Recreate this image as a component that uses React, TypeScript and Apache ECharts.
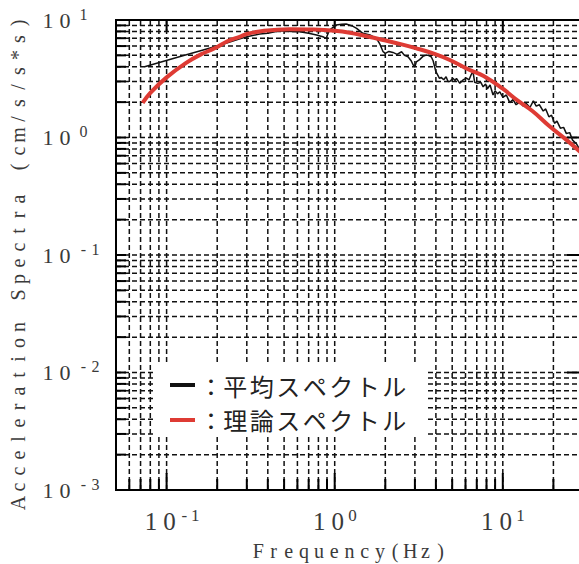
import React, { useEffect, useRef } from 'react';
import * as echarts from 'echarts';

// ---- axis ranges ----
const X_MIN = 0.05;
const X_MAX = 30;
const Y_MIN = 0.001;
const Y_MAX = 10;

// ---- grid line values (log decades) ----
const xGridValues = [
  0.06, 0.07, 0.08, 0.09, 0.1, 0.2, 0.3, 0.4, 0.5, 0.6, 0.7, 0.8, 0.9,
  1, 2, 3, 4, 5, 6, 7, 8, 9, 10, 20,
];
const yGridValues = [
  0.002, 0.003, 0.004, 0.005, 0.006, 0.007, 0.008, 0.009,
  0.01, 0.02, 0.03, 0.04, 0.05, 0.06, 0.07, 0.08, 0.09,
  0.1, 0.2, 0.3, 0.4, 0.5, 0.6, 0.7, 0.8, 0.9,
  1, 2, 3, 4, 5, 6, 7, 8, 9,
];

// ---- series names & titles ----
const seriesNames = ['平均スペクトル', '理論スペクトル'];
const xAxisTitle = 'Frequency(Hz)';
const yAxisTitle = 'Acceleration Spectra (cm/s/s*s)';

// ---- mean (observed) spectrum ----
const meanFreq = [
  0.074, 0.119, 0.193, 0.23, 0.27, 0.3, 0.358, 0.4, 0.47, 0.55, 0.62, 0.7, 0.78, 0.85, 0.89,
  0.93, 1.02, 1.1, 1.17, 1.27, 1.35, 1.47, 1.62, 1.77, 1.85, 1.94, 2.0, 2.1, 2.22, 2.35,
  2.5, 2.6, 2.73, 2.85, 2.93, 3.0, 3.06, 3.2, 3.35, 3.5, 3.6, 3.75, 3.85, 4.0, 4.2,
  4.3, 4.45, 4.6, 4.72, 4.84, 5.05, 5.2, 5.3, 5.55, 5.8, 6.08, 6.3, 6.5, 6.65, 6.8,
  7.1, 7.4, 7.64, 7.9, 8.1, 8.4, 8.75, 9.0, 9.3, 9.6, 10.0, 10.5, 11.0, 11.5, 12.0,
  12.6, 13.2, 13.8, 14.5, 15.2, 15.8, 16.5, 17.4, 18.0, 18.8, 19.5, 20.3, 21.0, 22.0, 23.0,
  23.9, 25.0, 26.0, 27.5, 28.5, 30,
];
const meanAmp = [
  4.0, 4.87, 5.93, 6.4, 6.9, 7.2, 7.6, 7.7, 8.1, 8.0, 7.95, 7.7, 7.45, 7.2, 6.98,
  8.2, 9.06, 9.2, 9.25, 8.9, 8.5, 7.7, 7.45, 6.98, 6.3, 5.37, 5.2, 5.4, 5.3, 5.1,
  5.37, 5.0, 4.87, 4.5, 4.14, 3.99, 4.4, 4.6, 4.9, 5.04, 5.0, 4.87, 4.5, 3.63, 3.19,
  3.25, 3.1, 3.29, 3.0, 2.99, 3.19, 3.05, 3.19, 2.89, 3.09, 3.2, 3.1, 3.45, 3.63, 2.95,
  2.89, 2.95, 2.7, 2.85, 2.6, 2.8, 2.3, 2.5, 2.35, 2.45, 2.2, 2.3, 1.98, 2.1, 1.9,
  2.0, 1.85, 1.95, 1.8, 2.05, 1.85, 1.9, 1.68, 1.75, 1.5, 1.55, 1.32, 1.38, 1.2, 1.22,
  1.08, 1.1, 0.95, 0.88, 0.8, 0.72,
];

// ---- theoretical spectrum ----
const theoFreq = [
  0.072, 0.08, 0.1, 0.13, 0.16, 0.193, 0.23, 0.272, 0.3, 0.38, 0.54, 0.75, 1.0, 1.23,
  1.5, 1.94, 2.5, 3.06, 4.0, 4.84, 6.36, 7.64, 10, 12.1, 15, 19.05, 24, 30,
];
const theoAmp = [
  1.97, 2.4, 3.25, 4.3, 5.1, 5.74, 6.6, 7.2, 7.6, 8.1, 8.35, 8.3, 8.1, 7.8,
  7.35, 6.76, 6.2, 5.74, 5.1, 4.57, 3.75, 3.35, 2.6, 2.09, 1.68, 1.24, 0.95, 0.72,
];

const SERIF = 'Liberation Serif';
const CJK = 'Noto Sans CJK JP';
const TEXT_COLOR = '#3a3a3a';

function isPow10(v: number) {
  const l = Math.log10(v);
  return Math.abs(l - Math.round(l)) < 1e-6;
}

function cells(text: string, style: string) {
  return Array.from(text)
    .map((c) => `{${style}|${c}}`)
    .join('');
}

export default function App() {
  const ref = useRef<HTMLDivElement>(null);

  useEffect(() => {
    if (!ref.current) return;
    const chart = echarts.init(ref.current, undefined, { renderer: 'svg' });

    const option: any = {
      animation: false,
      backgroundColor: '#fff',
      textStyle: { fontFamily: SERIF },
      grid: {
        left: 116,
        top: 20,
        right: -4,
        bottom: 74,
        show: true,
        borderColor: '#000',
        borderWidth: 2,
        backgroundColor: 'transparent',
        containLabel: false,
        outerBoundsMode: 'none',
      },
      legend: {
        data: seriesNames,
        orient: 'vertical',
        left: 153,
        top: 362,
        backgroundColor: '#fff',
        padding: [11, 20, 4, 17],
        itemGap: 11,
        itemWidth: 25,
        itemHeight: 4,
        icon: 'rect',
        selectedMode: false,
        formatter: (name: string) => '{c|：}' + cells(name, 'j'),
        textStyle: {
          color: '#222',
          fontFamily: CJK,
          fontSize: 24,
          rich: {
            c: { width: 22, align: 'center', fontSize: 24, lineHeight: 26, fontFamily: CJK, color: '#222' },
            j: { width: 26.5, align: 'center', fontSize: 24, lineHeight: 26, fontFamily: CJK, color: '#222' },
          },
        },
      },
      xAxis: {
        type: 'log',
        logBase: 10,
        min: X_MIN,
        max: X_MAX,
        name: cells(xAxisTitle, 'n'),
        nameLocation: 'middle',
        nameGap: 50,
        nameTextStyle: {
          color: TEXT_COLOR,
          fontFamily: SERIF,
          fontSize: 20,
          rich: {
            n: { width: 15.2, align: 'center', fontSize: 20, lineHeight: 22, fontFamily: SERIF, color: TEXT_COLOR },
          },
        },
        axisLine: { show: false },
        axisTick: { show: false },
        splitLine: { show: false },
        minorTick: { show: false },
        minorSplitLine: { show: false },
        axisLabel: {
          show: true,
          margin: 17,
          showMinLabel: true,
          showMaxLabel: true,
          verticalAlign: 'top',
          align: 'center',
          fontFamily: SERIF,
          fontSize: 25,
          color: TEXT_COLOR,
          formatter: (v: number) => {
            if (!isPow10(v)) return '';
            const e = String(Math.round(Math.log10(v)));
            const sup = Array.from(e);
            const supStr = sup.length === 1 ? `{s|${sup[0]}}{s| }` : `{s|${sup[0]}}{s|${sup[1]}}`;
            return `{p| }{d|1}{d|0}${supStr}`;
          },
          rich: {
            p: { width: 9.5, align: 'center', fontSize: 16, lineHeight: 12, fontFamily: SERIF },
            d: { width: 18.5, align: 'center', fontSize: 25, lineHeight: 28, fontFamily: SERIF, color: TEXT_COLOR },
            s: { width: 11, align: 'center', fontSize: 17, lineHeight: 12, verticalAlign: 'top', fontFamily: SERIF, color: TEXT_COLOR },
          },
        },
      },
      yAxis: {
        type: 'log',
        logBase: 10,
        min: Y_MIN,
        max: Y_MAX,
        name: cells(yAxisTitle, 'n'),
        nameLocation: 'middle',
        nameGap: 87,
        nameRotate: 90,
        nameTextStyle: {
          color: TEXT_COLOR,
          fontFamily: SERIF,
          fontSize: 20,
          padding: [0, 16, 0, 0],
          rich: {
            n: { width: 16, align: 'center', fontSize: 20, lineHeight: 22, fontFamily: SERIF, color: TEXT_COLOR },
          },
        },
        axisLine: { show: false },
        axisTick: { show: false },
        splitLine: { show: false },
        minorTick: { show: false },
        minorSplitLine: { show: false },
        axisLabel: {
          show: true,
          margin: 76.5,
          align: 'left',
          verticalAlign: 'middle',
          showMinLabel: true,
          showMaxLabel: true,
          fontFamily: SERIF,
          fontSize: 22,
          color: TEXT_COLOR,
          formatter: (v: number) => {
            if (!isPow10(v)) return '';
            const e = String(Math.round(Math.log10(v)));
            return `{d|1}{d|0}{g| }` + cells(e, 's');
          },
          rich: {
            d: { width: 17, align: 'center', fontSize: 22, lineHeight: 28, fontFamily: SERIF, color: TEXT_COLOR },
            g: { width: 4, align: 'center', fontSize: 12, lineHeight: 11, fontFamily: SERIF },
            s: { width: 12, align: 'center', fontSize: 16, lineHeight: 11, verticalAlign: 'top', fontFamily: SERIF, color: TEXT_COLOR },
          },
        },
      },
      series: [
        {
          type: 'custom',
          name: 'xgrid',
          coordinateSystem: 'cartesian2d',
          silent: true,
          z: 1,
          encode: { x: 0, y: 1 },
          data: xGridValues.map((v) => [v, 1]),
          renderItem: (params: any, api: any) => {
            const v = api.value(0);
            const x = api.coord([v, 1])[0];
            const cs = params.coordSys;
            const top = cs.y;
            const bottom = cs.y + cs.height;
            const major = isPow10(v);
            const children: any[] = [
              {
                type: 'line',
                shape: { x1: x, y1: bottom, x2: x, y2: top },
                style: { stroke: '#111', lineWidth: 1.5, lineDash: [5, 3] },
              },
              {
                type: 'line',
                shape: { x1: x, y1: bottom, x2: x, y2: bottom - (major ? 17 : 11) },
                style: { stroke: '#000', lineWidth: 2 },
              },
            ];
            if (major) {
              children.push({
                type: 'line',
                shape: { x1: x, y1: top, x2: x, y2: top + 12 },
                style: { stroke: '#000', lineWidth: 2 },
              });
            }
            return { type: 'group', children };
          },
        },
        {
          type: 'custom',
          name: 'ygrid',
          coordinateSystem: 'cartesian2d',
          silent: true,
          z: 1,
          encode: { x: 0, y: 1 },
          data: yGridValues.map((v) => [1, v]),
          renderItem: (params: any, api: any) => {
            const v = api.value(1);
            const y = api.coord([1, v])[1];
            const cs = params.coordSys;
            const left = cs.x;
            const right = cs.x + cs.width;
            const major = isPow10(v);
            const children: any[] = [
              {
                type: 'line',
                shape: { x1: left, y1: y, x2: right, y2: y },
                style: { stroke: '#111', lineWidth: 1.5, lineDash: [5, 3] },
              },
              {
                type: 'line',
                shape: { x1: left, y1: y, x2: left + 10, y2: y },
                style: { stroke: '#000', lineWidth: 2 },
              },
            ];
            if (major) {
              children.push({
                type: 'line',
                shape: { x1: right, y1: y, x2: right - 16, y2: y },
                style: { stroke: '#000', lineWidth: 2 },
              });
            }
            return { type: 'group', children };
          },
        },
        {
          type: 'line',
          name: seriesNames[0],
          z: 3,
          showSymbol: false,
          symbol: 'none',
          color: '#111',
          lineStyle: { color: '#111', width: 1.5 },
          data: meanFreq.map((f, i) => [f, meanAmp[i]]),
        },
        {
          type: 'line',
          name: seriesNames[1],
          z: 4,
          showSymbol: false,
          symbol: 'none',
          smooth: 0.4,
          color: '#de3b34',
          lineStyle: { color: '#de3b34', width: 4 },
          data: theoFreq.map((f, i) => [f, theoAmp[i]]),
        },
      ],
    };

    chart.setOption(option);
    return () => {
      chart.dispose();
    };
  }, []);

  return (
    <div
      ref={ref}
      style={{ position: 'fixed', left: 0, top: 0, width: 579, height: 564, background: '#fff' }}
    />
  );
}
